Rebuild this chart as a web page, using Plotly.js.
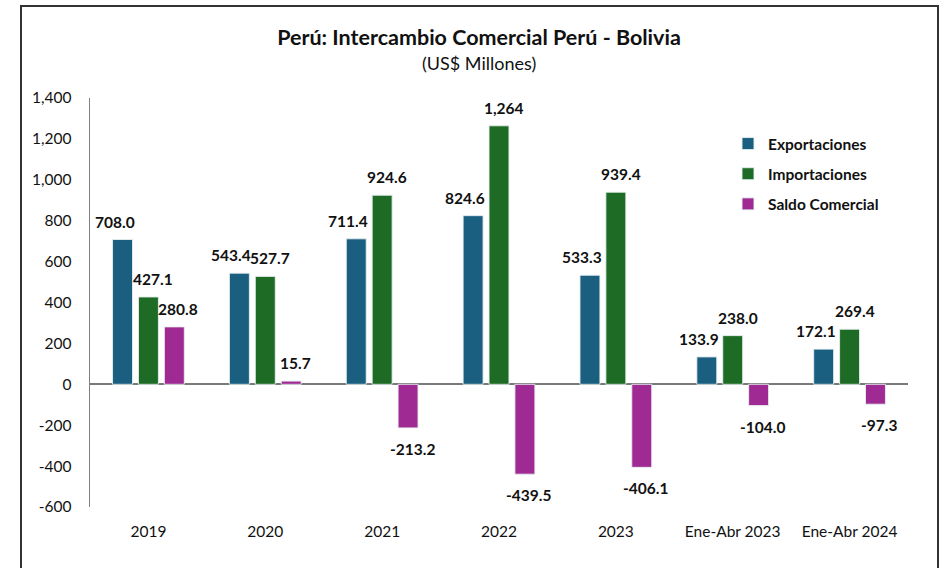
<!DOCTYPE html>
<html>
<head>
<meta charset="utf-8">
<script src="https://cdn.plot.ly/plotly-3.0.1.min.js"></script>
<style>html,body{margin:0;padding:0;background:#fff;}#chart{width:947px;height:568px;}</style>
</head>
<body>
<div id="chart"></div>
<script>
const categories = ["2019", "2020", "2021", "2022", "2023", "Ene-Abr 2023", "Ene-Abr 2024"];
const exportaciones = [708.0, 543.4, 711.4, 824.6, 533.3, 133.9, 172.1];
const importaciones = [427.1, 527.7, 924.6, 1264.0, 939.4, 238.0, 269.4];
const saldo = [280.8, 15.7, -213.2, -439.5, -406.1, -104.0, -97.3];
const seriesNames = ["Exportaciones", "Importaciones", "Saldo Comercial"];
const labelExp = ["708.0", "543.4", "711.4", "824.6", "533.3", "133.9", "172.1"];
const labelImp = ["427.1", "527.7", "924.6", "1,264", "939.4", "238.0", "269.4"];
const labelSal = ["280.8", "15.7", "-213.2", "-439.5", "-406.1", "-104.0", "-97.3"];
const yTicks = [-600, -400, -200, 0, 200, 400, 600, 800, 1000, 1200, 1400];
const yTickText = ["-600", "-400", "-200", "0", "200", "400", "600", "800", "1,000", "1,200", "1,400"];

const colors = ["#1A5E80", "#1D6B25", "#A02A93"];
const FONT = "Lato, 'Open Sans', sans-serif";
const bargap = 0.335;
const slot = (1 - bargap) / 3;
const labelXShift = [-8, 5, 4];

const series = [exportaciones, importaciones, saldo];
const labels = [labelExp, labelImp, labelSal];

const traces = series.map((vals, k) => ({
  type: "bar",
  name: seriesNames[k],
  x: categories,
  y: vals,
  legendgroup: "g" + k,
  marker: {color: colors[k], line: {color: "rgba(230,238,240,0.9)", width: 1}},
  hoverinfo: "skip"
}));

const annotations = [];
series.forEach((vals, k) => {
  vals.forEach((v, i) => {
    annotations.push({
      x: i + (k - 1) * slot, xref: "x",
      y: v, yref: "y",
      text: "<b>" + labels[k][i] + "</b>",
      showarrow: false,
      xanchor: "center", yanchor: "middle",
      xshift: labelXShift[k],
      yshift: v >= 0 ? 18 : -21,
      font: {family: FONT, size: 15.5, color: "#111"}
    });
  });
});
annotations.push({
  xref: "paper", yref: "paper", x: (479 - 90) / 818, y: (507 - 63) / 409,
  text: "(US$ Millones)", showarrow: false, xanchor: "center", yanchor: "middle",
  font: {family: FONT, size: 18, color: "#111"}
});

const layout = {
  width: 947, height: 568,
  margin: {l: 90, r: 39, t: 98, b: 61},
  paper_bgcolor: "#fff", plot_bgcolor: "#fff",
  title: {
    text: "<b>Perú: Intercambio Comercial Perú - Bolivia</b>",
    xref: "paper", x: (479 - 90) / 818, xanchor: "center",
    yref: "container", y: 1 - 37 / 568, yanchor: "middle",
    font: {family: FONT, size: 21.5, color: "#111"}
  },
  barmode: "group",
  bargap: bargap,
  bargroupgap: 0.23,
  xaxis: {
    type: "category",
    showgrid: false, zeroline: false, showline: false,
    ticks: "", ticklabelstandoff: 13,
    tickfont: {family: FONT, size: 15.5, color: "#111"},
    fixedrange: true
  },
  yaxis: {
    range: [-600, 1400],
    tickmode: "array",
    tickvals: yTicks,
    ticktext: yTickText,
    showgrid: false,
    showline: true, linecolor: "#808080", linewidth: 1.5,
    zeroline: true, zerolinecolor: "#7a7a7a", zerolinewidth: 2,
    ticks: "", ticklabelstandoff: 14,
    tickfont: {family: FONT, size: 15.5, color: "#111"},
    fixedrange: true
  },
  legend: {
    x: (728 - 90) / 818, y: (507 - 127) / 409, xanchor: "left", yanchor: "top",
    font: {family: FONT, size: 15.5, color: "#111", weight: "bold"},
    bgcolor: "rgba(0,0,0,0)",
    tracegroupgap: 7,
    itemwidth: 30
  },
  annotations: annotations,
  shapes: [{
    type: "rect", xref: "paper", yref: "paper",
    x0: (21 - 90) / 818, x1: (938 - 90) / 818,
    y0: -0.3, y1: (507 - 6) / 409,
    line: {color: "#333", width: 2}, fillcolor: "rgba(0,0,0,0)", layer: "below"
  }],
  showlegend: true
};

Plotly.newPlot("chart", traces, layout, {displayModeBar: false, staticPlot: true});
</script>
</body>
</html>
